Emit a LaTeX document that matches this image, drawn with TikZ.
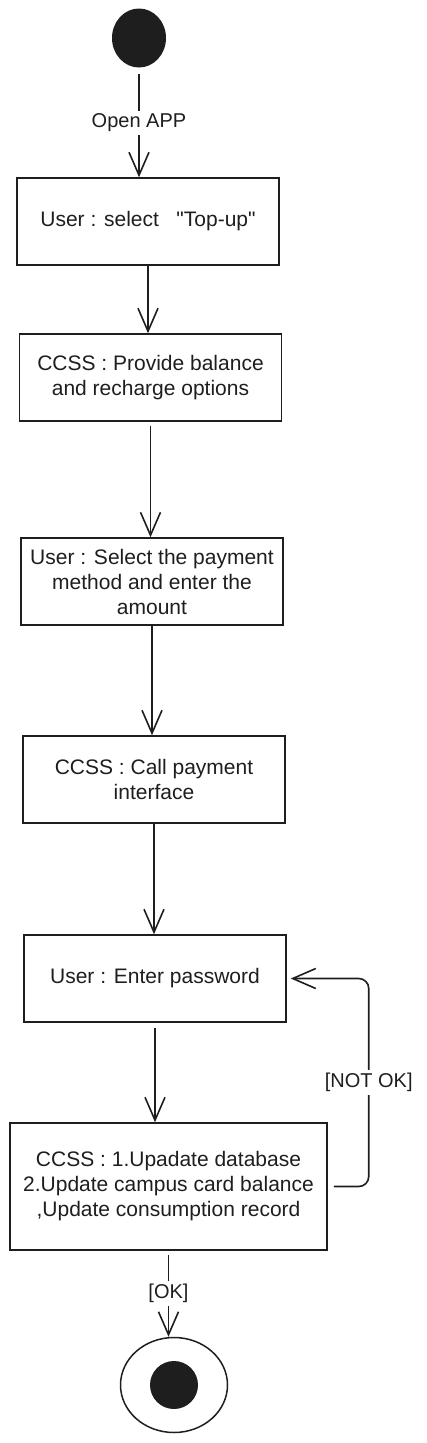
\documentclass[tikz,border=0pt]{standalone}
\usepackage{fontspec}
\setmainfont{Liberation Sans}
\usetikzlibrary{arrows.meta, shapes.geometric}
\definecolor{ink}{HTML}{1E1E1E}

\begin{document}
\begin{tikzpicture}[x=1pt, y=-1pt, line width=1.5pt, draw=ink, text=ink,
    >={Straight Barb[length=23pt, width=20pt]},
    act/.style={draw, minimum width=262pt, minimum height=87pt, align=center,
      inner sep=2pt, font=\fontsize{21}{25}\selectfont},
    lbl/.style={fill=white, inner sep=3pt, font=\fontsize{20}{24}\selectfont},
    flow/.style={->, line width=1.6pt}]

    \useasboundingbox (0,0) rectangle (427,1443);

    % Inicio
    \node[ellipse, fill=ink, minimum width=54pt, minimum height=59pt, inner sep=0pt] (start) at (139,38) {};

    % Atividades
    \node[act] (topup) at (148,221.5) {User : select \ \ \textquotedbl Top-up\textquotedbl};
    \node[act] (options) at (150.5,377.5) {CCSS : Provide balance\\and recharge options};
    \node[act] (method) at (152,581.5) {User : Select the payment\\method and enter the\\amount};
    \node[act] (call) at (154,779.5) {CCSS : Call payment\\interface};
    \node[act] (pwd) at (155,978.5) {User : Enter password};
    \node[act, minimum width=317pt, minimum height=127pt] (update) at (168.5,1186.5)
        {CCSS : 1.Upadate database\\2.Update campus card balance\\,Update consumption record};

    % Fim
    \node[ellipse, draw, minimum width=107pt, minimum height=95pt, inner sep=0pt] (end) at (174,1385) {};
    \node[circle, fill=ink, minimum size=48pt, inner sep=0pt] (endin) at (end.center) {};

    % Fluxo principal
    \draw[flow, shorten <=6pt] (start.south) -- node[lbl, pos=0.5] {Open APP} (start.south |- topup.north);
    \draw[flow] (topup.south) -- (topup.south |- options.north);
    \draw[flow, shorten <=4pt] (options.south) -- (options.south |- method.north);
    \draw[flow] (method.south) -- (method.south |- call.north);
    \draw[flow] (call.south) -- (call.south |- pwd.north);
    \draw[flow, shorten <=5pt] (pwd.south) -- (pwd.south |- update.north);

    % Retorno e saida
    \draw[flow, rounded corners=10pt, shorten <=6pt, shorten >=4pt] (update.east) -- ++(41,0) |- node[lbl, pos=0.25] {[NOT OK]} (pwd.east);
    \draw[flow, shorten <=4pt] (update.south) -- node[lbl, pos=0.5] {[OK]} (update.south |- end.north);

\end{tikzpicture}
\end{document}
